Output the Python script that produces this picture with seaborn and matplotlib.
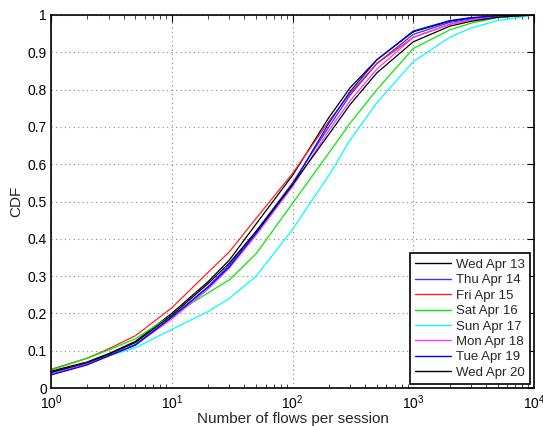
import numpy as np
import pandas as pd
import matplotlib
matplotlib.use("Agg")
import matplotlib.pyplot as plt
import seaborn as sns
from matplotlib.ticker import LogLocator, FixedLocator, NullFormatter

days = ["Wed Apr 13", "Thu Apr 14", "Fri Apr 15", "Sat Apr 16",
        "Sun Apr 17", "Mon Apr 18", "Tue Apr 19", "Wed Apr 20"]
colors = ["#000000", "#3333ff", "#ff2020", "#00ee00",
          "#00ffff", "#ff33ff", "#0000ff", "#000000"]

flows = [1, 2, 3, 5, 10, 20, 30, 50, 100, 200, 300, 500, 1000, 2000, 3000, 5000, 10000]

cdf_wed13 = [0.045, 0.070, 0.092, 0.125, 0.200, 0.285, 0.343, 0.440, 0.570, 0.725, 0.805, 0.880, 0.955, 0.983, 0.992, 0.997, 1.0]
cdf_thu14 = [0.038, 0.064, 0.086, 0.117, 0.190, 0.272, 0.330, 0.420, 0.550, 0.700, 0.785, 0.870, 0.948, 0.980, 0.990, 0.997, 1.0]
cdf_fri15 = [0.050, 0.080, 0.105, 0.140, 0.215, 0.310, 0.365, 0.455, 0.575, 0.715, 0.790, 0.870, 0.940, 0.975, 0.987, 0.995, 1.0]
cdf_sat16 = [0.048, 0.080, 0.102, 0.132, 0.195, 0.255, 0.290, 0.360, 0.495, 0.630, 0.710, 0.800, 0.910, 0.960, 0.978, 0.993, 1.0]
cdf_sun17 = [0.040, 0.068, 0.086, 0.108, 0.157, 0.205, 0.240, 0.300, 0.425, 0.570, 0.665, 0.765, 0.875, 0.940, 0.965, 0.985, 1.0]
cdf_mon18 = [0.040, 0.065, 0.086, 0.115, 0.185, 0.265, 0.322, 0.410, 0.540, 0.690, 0.770, 0.855, 0.940, 0.975, 0.987, 0.995, 1.0]
cdf_tue19 = [0.035, 0.062, 0.086, 0.115, 0.190, 0.270, 0.325, 0.415, 0.545, 0.710, 0.795, 0.880, 0.957, 0.985, 0.993, 0.998, 1.0]
cdf_wed20 = [0.042, 0.068, 0.090, 0.122, 0.195, 0.280, 0.335, 0.420, 0.545, 0.680, 0.760, 0.845, 0.928, 0.970, 0.983, 0.994, 1.0]

series = [cdf_wed13, cdf_thu14, cdf_fri15, cdf_sat16, cdf_sun17, cdf_mon18, cdf_tue19, cdf_wed20]

yticks = [0, 0.1, 0.2, 0.3, 0.4, 0.5, 0.6, 0.7, 0.8, 0.9, 1]
ytick_labels = ["0", "0.1", "0.2", "0.3", "0.4", "0.5", "0.6", "0.7", "0.8", "0.9", "1"]

rows = []
for d, vals in zip(days, series):
    for f, v in zip(flows, vals):
        rows.append({"day": d, "flows": f, "cdf": v})
df = pd.DataFrame(rows)

sns.set_style("white")
plt.rcParams["font.family"] = ["Liberation Sans", "DejaVu Sans"]
plt.rcParams["mathtext.fontset"] = "custom"
plt.rcParams["mathtext.rm"] = "Liberation Sans"
plt.rcParams["mathtext.it"] = "Liberation Sans"

fig = plt.figure(figsize=(5.43, 4.26), dpi=100)
ax = fig.add_axes([51/543, 38/426, (534-51)/543, (388-15)/426])

palette = dict(zip(days, colors))
sns.lineplot(data=df, x="flows", y="cdf", hue="day", hue_order=days,
             palette=palette, estimator=None, sort=True, lw=0.9, ax=ax)

ax.set_xscale("log")
ax.set_xlim(1, 1e4)
ax.set_ylim(0, 1)
ax.yaxis.set_major_locator(FixedLocator(yticks))
ax.set_yticklabels(ytick_labels)
ax.xaxis.set_major_locator(LogLocator(base=10, numticks=10))
ax.xaxis.set_minor_locator(LogLocator(base=10, subs=np.arange(2, 10), numticks=50))
ax.xaxis.set_minor_formatter(NullFormatter())

ax.grid(True, which="major", linestyle=(0, (1, 3)), color="#888888", lw=0.8)
ax.tick_params(axis="both", which="major", direction="in", length=5, width=0.8,
               top=True, right=True, labelsize=10, colors="black", pad=3)
ax.tick_params(axis="x", which="major", pad=4)
ax.tick_params(axis="x", which="minor", direction="in", length=3, width=0.6,
               top=True, bottom=True)
for s in ax.spines.values():
    s.set_visible(True)
    s.set_color("black")
    s.set_linewidth(1.2)

ax.set_xlabel("Number of flows per session", fontsize=11, labelpad=0)
ax.set_ylabel("CDF", fontsize=11, labelpad=3)

leg = ax.legend(loc="lower right", fontsize=9.5, frameon=True, fancybox=False,
                edgecolor="black", framealpha=1, borderaxespad=0.3,
                handlelength=2.7, labelspacing=0.24, borderpad=0.4,
                handletextpad=0.4)
leg.get_frame().set_linewidth(1.2)
for line in leg.get_lines():
    line.set_linewidth(1.0)

fig.savefig("out.png", dpi=100)
